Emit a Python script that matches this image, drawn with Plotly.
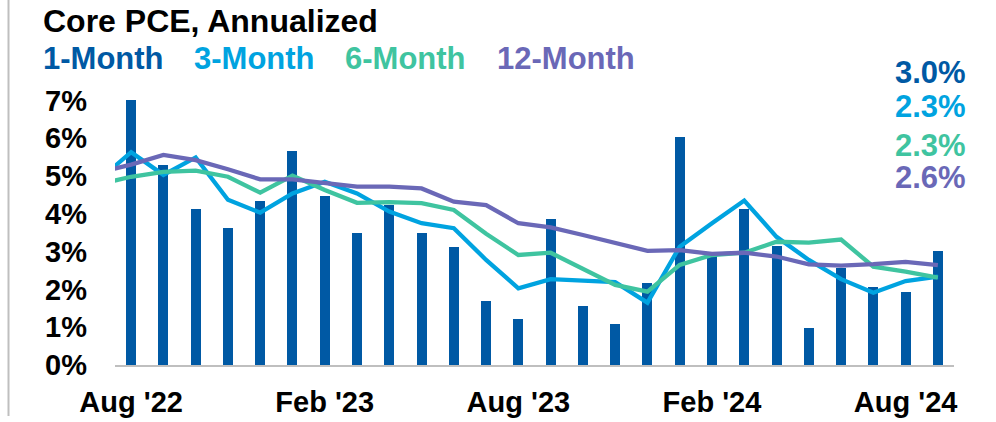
import plotly.graph_objects as go

# ---------------- data ----------------
months = ["Jul '22", "Aug '22", "Sep '22", "Oct '22", "Nov '22", "Dec '22",
          "Jan '23", "Feb '23", "Mar '23", "Apr '23", "May '23", "Jun '23",
          "Jul '23", "Aug '23", "Sep '23", "Oct '23", "Nov '23", "Dec '23",
          "Jan '24", "Feb '24", "Mar '24", "Apr '24", "May '24", "Jun '24",
          "Jul '24", "Aug '24", "Sep '24"]

one_month = [None, 7.0, 5.3, 4.12, 3.62, 4.35, 5.67, 4.47, 3.5, 4.23, 3.5, 3.13,
             1.69, 1.21, 3.86, 1.56, 1.08, 2.18, 6.04, 2.91, 4.12, 3.15, 0.97,
             2.56, 2.06, 1.93, 3.02]
three_month = [4.9, 5.63, 5.03, 5.49, 4.37, 4.03, 4.54, 4.85, 4.54, 4.06, 3.75,
               3.62, 2.78, 2.03, 2.27, 2.23, 2.19, 1.65, 3.13, 3.75, 4.35, 3.39,
               2.78, 2.27, 1.91, 2.22, 2.34]
six_month = [4.78, 4.98, 5.11, 5.14, 4.98, 4.56, 5.01, 4.63, 4.29, 4.31, 4.28,
             4.10, 3.47, 2.91, 2.97, 2.53, 2.12, 1.94, 2.65, 2.91, 2.97, 3.26,
             3.24, 3.32, 2.60, 2.47, 2.31]
twelve_month = [5.1, 5.3, 5.56, 5.42, 5.18, 4.91, 4.91, 4.82, 4.72, 4.72, 4.67,
                4.32, 4.23, 3.75, 3.64, 3.44, 3.22, 3.02, 3.04, 2.94, 2.97, 2.87,
                2.66, 2.63, 2.67, 2.73, 2.64]

series_names = ["1-Month", "3-Month", "6-Month", "12-Month"]
tick_months = ["Aug '22", "Feb '23", "Aug '23", "Feb '24", "Aug '24"]
y_ticks = [0, 1, 2, 3, 4, 5, 6, 7]

# ---------------- style ----------------
C1, C3, C6, C12 = "#0059A4", "#00A3E0", "#3FC4A0", "#6A68B7"
FONT = "Liberation Sans, Arial, sans-serif"
W, H = 996, 422
L, T = 115, 90
R = W - 954
B = H - 365
PW, PH = W - L - R, H - T - B
YMAX = 7.275

def px(x):
    """page pixel x -> paper coordinate"""
    return (x - L) / PW

def py(y):
    """page pixel y -> paper coordinate"""
    return (H - B - y) / PH

fig = go.Figure()
fig.add_trace(go.Bar(x=months, y=one_month, name=series_names[0],
                     marker=dict(color=C1, line=dict(width=0)), width=0.31))
for vals, col, nm in [(three_month, C3, series_names[1]),
                      (six_month, C6, series_names[2]),
                      (twelve_month, C12, series_names[3])]:
    fig.add_trace(go.Scatter(x=months, y=vals, mode="lines", name=nm,
                             line=dict(color=col, width=4.3)))

anns = []
anns.append(dict(text="Core PCE, Annualized", x=px(41), y=py(21), xref="paper",
                 yref="paper", xanchor="left", yanchor="middle", showarrow=False,
                 font=dict(family=FONT, size=32, color="black", weight="bold")))
for nm, col, xpos in zip(series_names, [C1, C3, C6, C12], [41, 192, 343, 495]):
    anns.append(dict(text=nm, x=px(xpos), y=py(59), xref="paper", yref="paper",
                     xanchor="left", yanchor="middle", showarrow=False,
                     font=dict(family=FONT, size=31, color=col, weight="bold")))
for vals, col, ypos in [(one_month, C1, 72), (three_month, C3, 107),
                        (six_month, C6, 145), (twelve_month, C12, 177)]:
    anns.append(dict(text=f"{vals[-1]:.1f}%", x=px(968), y=py(ypos), xref="paper",
                     yref="paper", xanchor="right", yanchor="middle", showarrow=False,
                     font=dict(family=FONT, size=31, color=col, weight="bold")))

fig.update_layout(
    width=W, height=H, margin=dict(l=L, r=R, t=T, b=B, autoexpand=False),
    paper_bgcolor="white", plot_bgcolor="white", showlegend=False,
    annotations=anns, bargap=0, hovermode=False,
    shapes=[dict(type="line", xref="paper", yref="paper", x0=px(8.5), x1=px(8.5),
                 y0=py(0), y1=py(416), line=dict(color="#BFBFBF", width=2))],
    xaxis=dict(type="category", categoryorder="array", categoryarray=months,
               range=[0.5, len(months) - 0.5], tickvals=tick_months,
               ticktext=tick_months, showgrid=False, zeroline=False,
               showline=True, linecolor="#BFBFBF", linewidth=2,
               ticks="", ticklabelstandoff=10, automargin=False,
               tickfont=dict(family=FONT, size=29, color="black", weight="bold")),
    yaxis=dict(range=[0, YMAX], tickvals=y_ticks, ticktext=[f"{v}%" for v in y_ticks],
               showgrid=False, zeroline=False, showline=False, ticks="",
               ticklabelstandoff=27, automargin=False,
               tickfont=dict(family=FONT, size=29, color="black", weight="bold")),
)

fig.write_html("out.html", config={"displayModeBar": False},
               post_script="document.body.style.margin='0';document.body.style.overflow='hidden';")
